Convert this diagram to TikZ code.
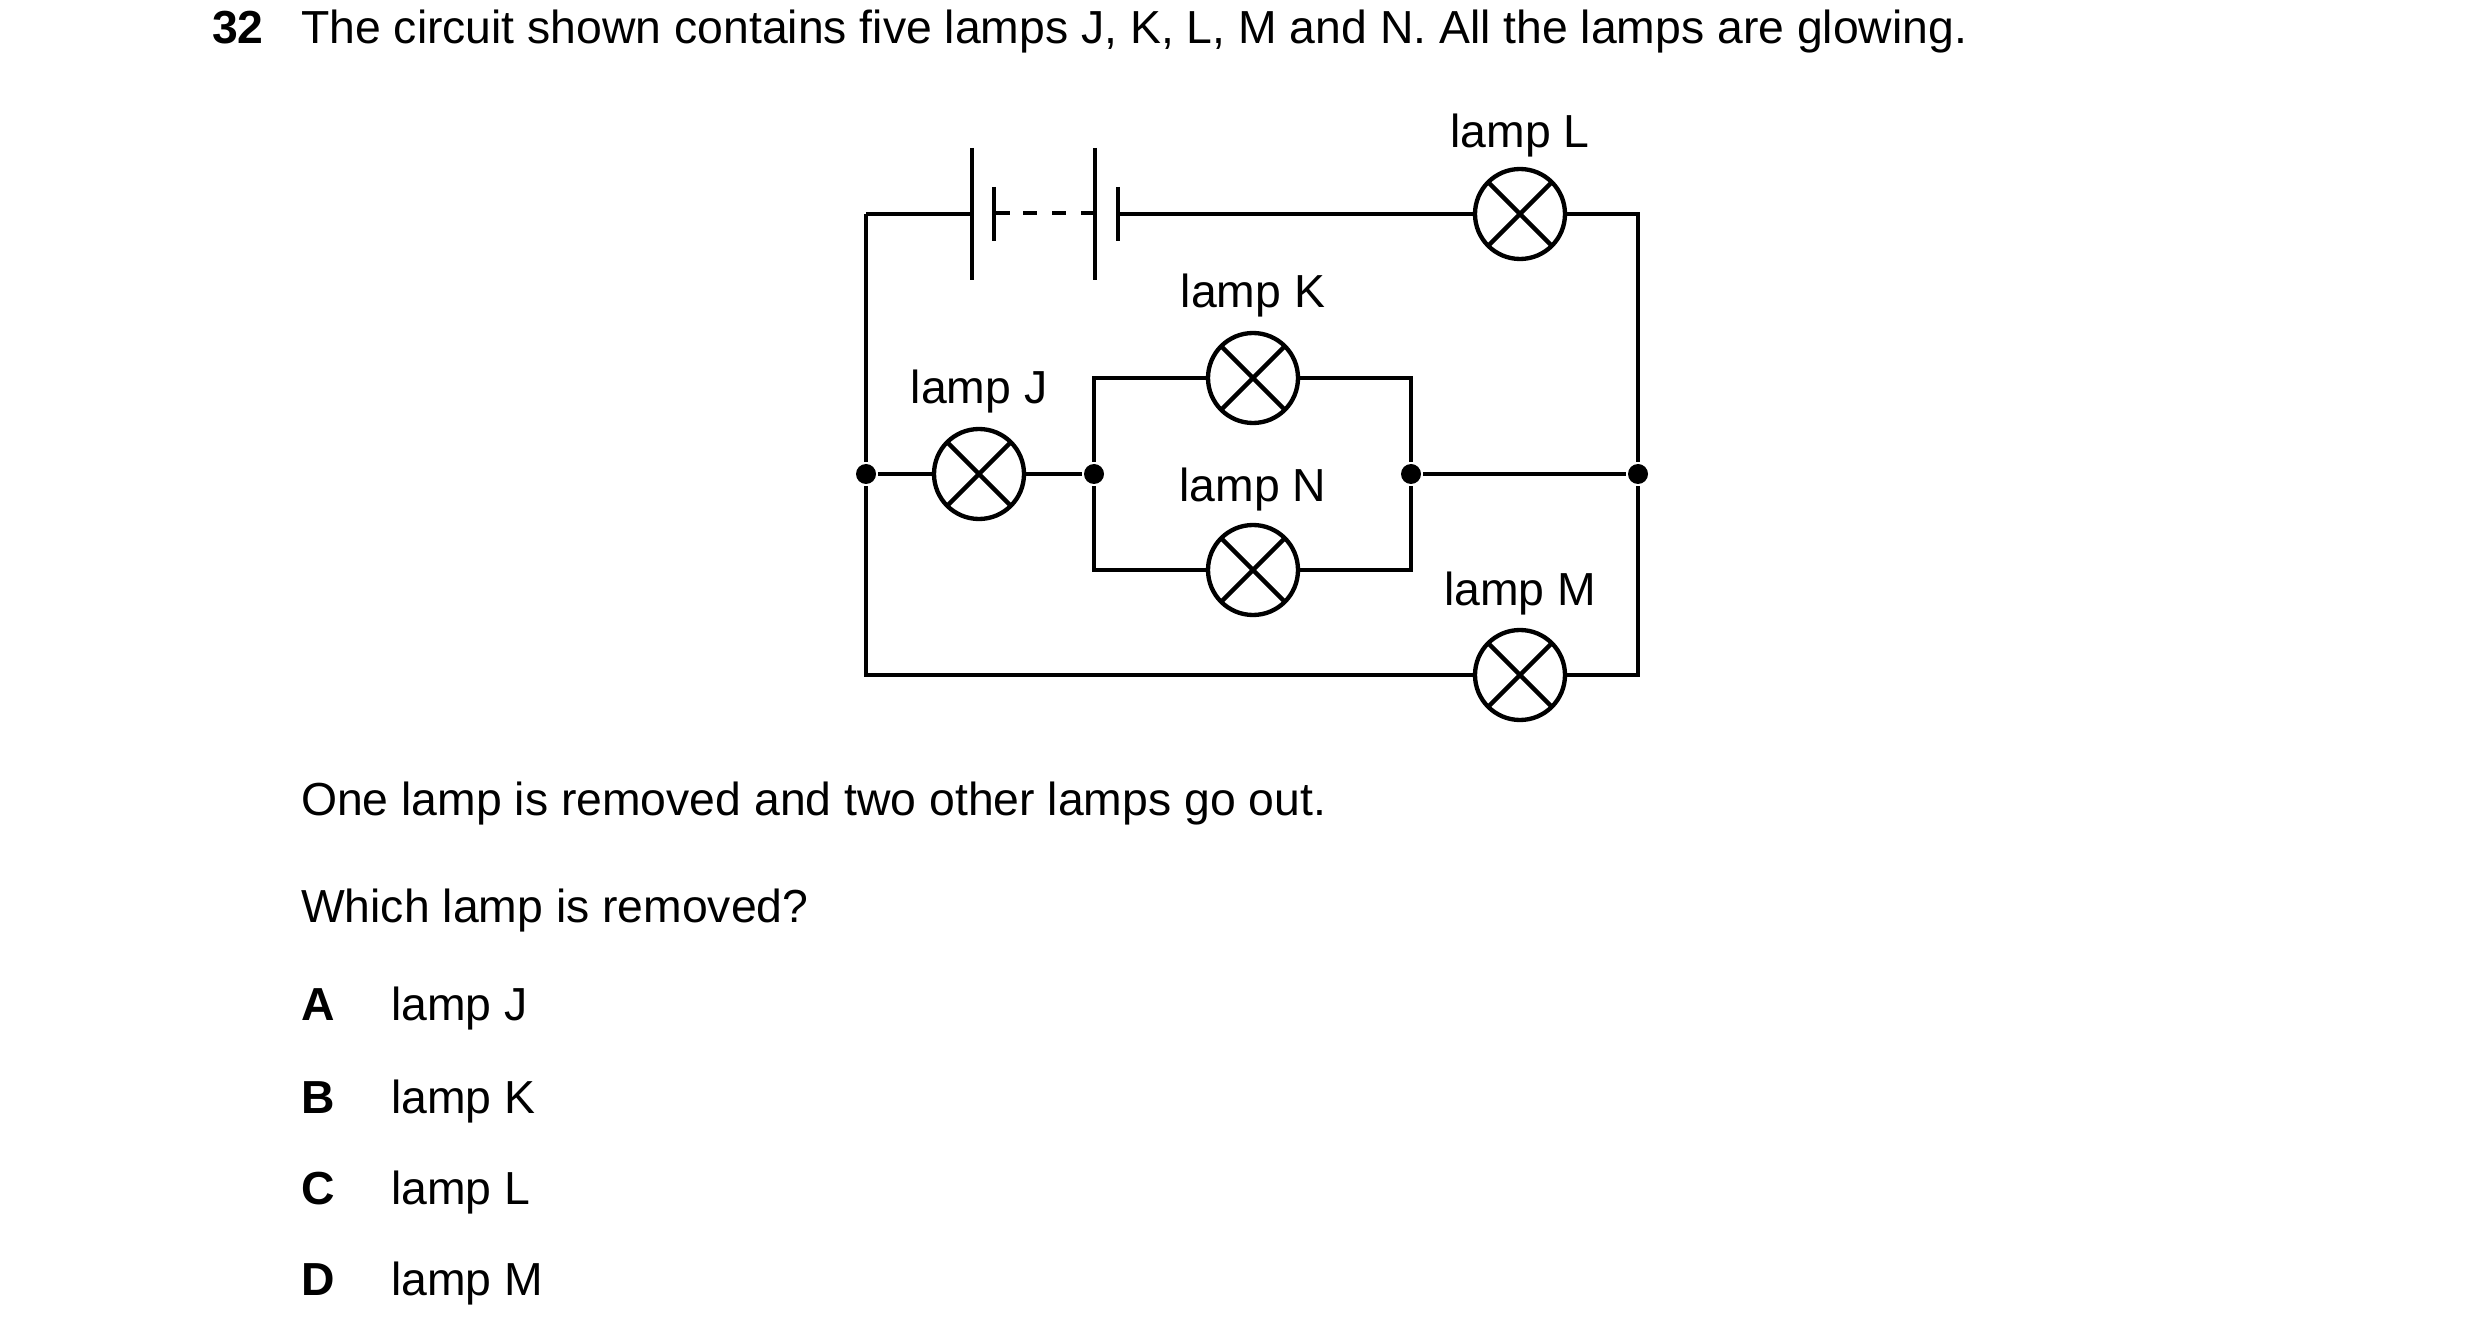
\documentclass[tikz,border=0pt]{standalone}
\usepackage{fontspec}
\setmainfont{Liberation Sans}
\begin{document}
\begin{tikzpicture}[x=0.3pt,y=-0.3pt,line width=1.3pt,
  lamp/.style={circle,draw,minimum size=27pt,inner sep=0pt,path picture={\draw (path picture bounding box.north west)++(4.1pt,-4.1pt) -- ([shift={(-4.1pt,4.1pt)}]path picture bounding box.south east);\draw ([shift={(4.1pt,4.1pt)}]path picture bounding box.south west) -- ([shift={(-4.1pt,-4.1pt)}]path picture bounding box.north east);}},
  dot/.style={circle,fill,inner sep=0pt,minimum size=6pt},
  txt/.style={font=\fontsize{13.9}{16}\selectfont,inner sep=0pt,anchor=base west},
  bt/.style={txt,font=\fontsize{13.9}{16}\selectfont\bfseries},
  lbl/.style={font=\fontsize{13.9}{16}\selectfont,inner sep=0pt}]
\useasboundingbox (0,0) rectangle (2480,1331);
\node[bt] (q) at (210,44) {32};
\node[txt] (qt) at (299,44) {The circuit shown contains five lamps J, K, L, M and N. All the lamps are glowing.};
% nodes
\node[lamp] (L) at (1520,214) {};
\node[lamp] (K) at (1253,378) {};
\node[lamp] (J) at (979,474) {};
\node[lamp] (N) at (1253,570) {};
\node[lamp] (M) at (1520,675) {};
\node[dot] (d1) at (866,474) {};
\node[dot] (d2) at (1094,474) {};
\node[dot] (d3) at (1411,474) {};
\node[dot] (d4) at (1638,474) {};
\coordinate (tl) at (866,214); \coordinate (tr) at (1638,214);
\coordinate (bl) at (866,675); \coordinate (br) at (1638,675);
\coordinate (b1) at (972,214); \coordinate (b4) at (1118,214);
% battery
\draw (tl) -- (b1);
\draw (972,148) -- (972,280);
\draw (994,187) -- (994,241);
\draw (994,213) -- (1010,213);
\draw (1023,213) -- (1037,213);
\draw (1052,213) -- (1066,213);
\draw (1081,213) -- (1095,213);
\draw (1095,148) -- (1095,280);
\draw (1118,187) -- (1118,241);
\draw (b4) -- (L.west);
\draw (L.east) -- (tr) -- (d4) -- (br) -- (M.east);
\draw (M.west) -- (bl) -- (d1) -- (tl);
\draw (d1) -- (J.west); \draw (J.east) -- (d2);
\draw (d2) |- (K.west); \draw (K.east) -| (d3);
\draw (d2) |- (N.west); \draw (N.east) -| (d3);
\draw (d3) -- (d4);
% labels
\node[lbl] (lL) at (1520,136) {lamp L};
\node[lbl] (lK) at (1253,296) {lamp K};
\node[lbl] (lJ) at (979,392) {lamp J};
\node[lbl] (lN) at (1253,490) {lamp N};
\node[lbl] (lM) at (1520,594) {lamp M};
% text
\node[txt] (t1) at (299,815) {One lamp is removed and two other lamps go out.};
\node[txt] (t2) at (299,922) {Which lamp is removed?};
\node[bt] (a) at (299,1020) {A};
\node[txt] (at) at (389,1020) {lamp J};
\node[bt] (b) at (299,1113) {B};
\node[txt] (btx) at (389,1113) {lamp K};
\node[bt] (c) at (299,1204) {C};
\node[txt] (ct) at (389,1204) {lamp L};
\node[bt] (d) at (299,1295) {D};
\node[txt] (dt) at (389,1295) {lamp M};
\end{tikzpicture}
\end{document}
